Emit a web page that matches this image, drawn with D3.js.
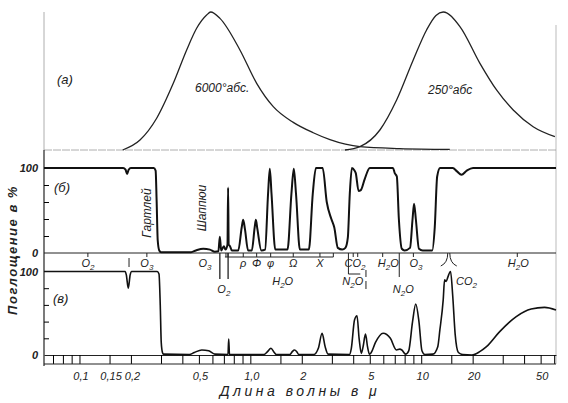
<!DOCTYPE html>
<html>
<head>
<meta charset="utf-8">
<script src="https://cdn.jsdelivr.net/npm/d3@7"></script>
<style>
  body { margin: 0; background: #fff; }
  svg { display: block; background: #fff; }
  text { font-family: "Liberation Sans", "DejaVu Sans", sans-serif; font-style: italic; fill: #222; }
</style>
</head>
<body>
<svg width="568" height="403"></svg>
<script>
// wavelength ticks on the log axis (microns)
var waveTicks = [0.07, 0.08, 0.09, 0.1, 0.15, 0.2, 0.3, 0.4, 0.5, 0.6, 0.7, 0.8, 0.9, 1, 1.5, 2, 3, 4, 5, 6, 7, 8, 9, 10, 15, 20, 30, 40, 50, 60];
var waveLabels = [0.1, 0.15, 0.2, 0.5, 1, 2, 5, 10, 20, 50];

// (a) black body curves, normalised
var planck6000 = [[0.179, 0], [0.226, 0.072], [0.283, 0.23], [0.354, 0.483], [0.424, 0.725], [0.485, 0.882],
  [0.555, 0.978], [0.586, 1.0], [0.664, 0.954], [0.869, 0.725], [1.089, 0.483], [1.362, 0.314], [1.783, 0.2],
  [2.334, 0.125], [2.924, 0.075], [3.6, 0.042], [4.38, 0.024], [7.5, 0.01], [14.7, 0.004]];
var planck250 = [[3.58, 0], [4.38, 0.024], [5.73, 0.145], [7.18, 0.362], [8.98, 0.652], [10.75, 0.87],
  [12.2, 0.975], [13.45, 1.0], [16.85, 0.894], [22.06, 0.628], [27.6, 0.435], [34.55, 0.29], [45.2, 0.169], [60.6, 0.097]];

// (б) absorption, %
var absTop = [[0.062, 100], [0.18, 100], [0.186, 98], [0.19, 93], [0.194, 98], [0.2, 100], [0.272, 100], [0.279, 97],
  [0.283, 60], [0.287, 15], [0.293, 3], [0.3, 1], [0.45, 1], [0.48, 3], [0.53, 5], [0.58, 4], [0.62, 1.5], [0.65, 2],
  [0.663, 19], [0.675, 3], [0.7, 8], [0.715, 4], [0.735, 10], [0.741, 77], [0.747, 10], [0.76, 8], [0.78, 3], [0.85, 3],
  [0.89, 30], [0.908, 39], [0.93, 28], [0.97, 3], [1.02, 3], [1.06, 30], [1.077, 39], [1.1, 28], [1.16, 3], [1.22, 4],
  [1.27, 70], [1.3, 99], [1.33, 70], [1.4, 4], [1.65, 4], [1.74, 70], [1.796, 99], [1.85, 70], [1.95, 4], [2.2, 4],
  [2.32, 70], [2.42, 100], [2.65, 100], [2.8, 60], [2.98, 40], [3.1, 30], [3.25, 6], [3.45, 4], [3.6, 6], [3.72, 18],
  [3.82, 70], [3.93, 100], [4.07, 97], [4.14, 94], [4.3, 73], [4.43, 74], [4.67, 87], [5.0, 100], [6.84, 100],
  [7.0, 94], [7.2, 90], [7.4, 40], [7.7, 5], [8.0, 3], [8.6, 6], [8.9, 40], [9.08, 58], [9.3, 40], [9.7, 5], [10.2, 3],
  [11.6, 3], [12.0, 30], [12.4, 90], [12.9, 100], [15.3, 100], [16.2, 96], [17.2, 92], [18.5, 97], [20.1, 100], [61.5, 100]];

// (в) absorption, %
var absLow = [[0.062, 100], [0.185, 100], [0.188, 96], [0.193, 80], [0.198, 96], [0.202, 100], [0.285, 100], [0.292, 97],
  [0.297, 60], [0.301, 15], [0.306, 3], [0.31, 1], [0.44, 0.5], [0.47, 3], [0.52, 6], [0.57, 5], [0.62, 1], [0.74, 0.5],
  [0.747, 19], [0.755, 0.5], [1.2, 0.5], [1.26, 4], [1.32, 8], [1.38, 3], [1.42, 0.5], [1.7, 0.5], [1.76, 4], [1.81, 6],
  [1.87, 4], [1.92, 0.5], [2.35, 0.5], [2.5, 8], [2.63, 26], [2.74, 10], [2.85, 1], [3.8, 0.5], [3.9, 8], [4.07, 42],
  [4.21, 47], [4.33, 20], [4.46, 2], [4.57, 10], [4.72, 25], [4.85, 10], [4.98, 1], [5.1, 3], [5.4, 15], [5.98, 26],
  [6.6, 20], [7.16, 6], [7.5, 7], [7.7, 6], [8.1, 1], [8.45, 5], [8.9, 40], [9.29, 61], [9.7, 40], [10.1, 5], [10.5, 0.5],
  [11.7, 1], [12.5, 10], [12.86, 30], [13.45, 66], [13.7, 90], [14.0, 88], [14.3, 93], [14.85, 100], [15.3, 70],
  [15.8, 25], [16.5, 3], [17.5, 0.5], [19.8, 0], [22, 4], [24.1, 10], [28.8, 28], [36, 46], [44, 55], [52.7, 57], [61.5, 54]];

// band names under panel (б): text, wavelength, row
var bandLabels = [["O_2", 0.112, 0], ["O_3", 0.248, 0], ["O_3", 0.543, 0], ["O_2", 0.70, 2], ["ρ", 0.909, 0],
  ["Φ", 1.089, 0], ["φ", 1.315, 0], ["Ω", 1.783, 0], ["X", 2.555, 0], ["H_2O", 1.546, 1], ["CO_2", 4.10, 0],
  ["N_2O", 3.98, 1], ["H_2O", 6.41, 0], ["N_2O", 7.85, 2], ["O_3", 9.31, 0], ["CO_2", 18.4, 1], ["H_2O", 36.97, 0]];
var bandMarks = [0.112, 0.248, 4.0, 4.25, 5.95, 9.0, 36.5];
var waterBands = [0.72, 0.74, 0.909, 1.089, 1.315, 1.783, 2.555, 3.06];

var svg = d3.select("svg");
var x = d3.scaleLog().domain([0.062, 61.5]).range([44, 556]);
var yA = d3.scaleLinear().domain([0, 1]).range([150, 12]);
var yB = d3.scaleLinear().domain([0, 100]).range([253, 168]);
var yC = d3.scaleLinear().domain([0, 100]).range([355, 271.5]);

function chem(sel, label) {
  var parts = label.split(/_(\d)/);
  parts.forEach(function(p, i) {
    if (!p) return;
    if (i % 2) sel.append("tspan").attr("dy", 3).style("font-size", "8px").text(p);
    else sel.append("tspan").attr("dy", i ? -3 : 0).text(p);
  });
}

// frame lines
svg.append("line").attr("x1", 44).attr("x2", 44).attr("y1", 12).attr("y2", 150).attr("stroke", "#999").attr("stroke-width", 0.8);
svg.append("line").attr("x1", 556).attr("x2", 556).attr("y1", 25).attr("y2", 364).attr("stroke", "#aaa").attr("stroke-width", 0.8);
svg.append("line").attr("x1", 44).attr("x2", 556).attr("y1", 150).attr("y2", 150).attr("stroke", "#999")
  .attr("stroke-width", 0.8).attr("stroke-dasharray", "8,1");
svg.append("line").attr("x1", 44).attr("x2", 44).attr("y1", 150).attr("y2", 366).attr("stroke", "#222").attr("stroke-width", 1.2);
svg.append("line").attr("x1", 44).attr("x2", 556).attr("y1", 253).attr("y2", 253).attr("stroke", "#222").attr("stroke-width", 1);

// y ticks
svg.append("g").attr("transform", "translate(44,0)")
  .call(d3.axisRight(yB).tickValues([20, 40, 60, 80]).tickSize(5).tickFormat(""))
  .call(g => g.select(".domain").remove());
svg.append("g").attr("transform", "translate(44,0)")
  .call(d3.axisRight(yC).tickValues([20, 40, 60, 80]).tickSize(5).tickFormat(""))
  .call(g => g.select(".domain").remove());
[yB, yC].forEach(function(s) {
  svg.append("g").attr("transform", "translate(42,0)")
    .call(d3.axisLeft(s).tickValues([0, 100]).tickSize(0).tickPadding(4))
    .call(g => g.select(".domain").remove())
    .selectAll("text").style("font-size", "11px").style("font-weight", "bold").attr("fill", "#222");
});

// x axis band
svg.append("g").attr("transform", "translate(0,355)")
  .call(d3.axisBottom(x).tickValues(waveTicks).tickSizeInner(9).tickSizeOuter(0).tickFormat(""))
  .call(g => g.select(".domain").attr("stroke", "#222"));
svg.append("line").attr("x1", 44).attr("x2", 556).attr("y1", 364).attr("y2", 364).attr("stroke", "#222").attr("stroke-width", 1.2);
svg.append("g").attr("transform", "translate(1,366)")
  .call(d3.axisBottom(x).tickValues(waveLabels).tickSize(0).tickPadding(6)
    .tickFormat(d => d === 1 ? "1,0" : String(d).replace(".", ",")))
  .call(g => g.select(".domain").remove())
  .selectAll("text").style("font-size", "11px").attr("fill", "#222");

// curves
var lineA = d3.line().x(d => x(d[0])).y(d => yA(d[1])).curve(d3.curveMonotoneX);
var lineB = d3.line().x(d => x(d[0])).y(d => yB(d[1])).curve(d3.curveMonotoneX);
var lineC = d3.line().x(d => x(d[0])).y(d => yC(d[1])).curve(d3.curveMonotoneX);
[planck6000, planck250].forEach(function(d) {
  svg.append("path").datum(d).attr("d", lineA).attr("fill", "none").attr("stroke", "#222").attr("stroke-width", 1.3);
});
svg.append("path").datum(absTop).attr("d", lineB).attr("fill", "none").attr("stroke", "#111").attr("stroke-width", 2);
svg.append("path").datum(absLow).attr("d", lineC).attr("fill", "none").attr("stroke", "#111").attr("stroke-width", 1.6);

// band markers and brackets between panels
var marks = svg.append("g").attr("stroke", "#222").attr("fill", "none").attr("stroke-width", 1);
bandMarks.forEach(function(w) {
  marks.append("line").attr("x1", x(w)).attr("x2", x(w)).attr("y1", 253).attr("y2", 257);
});
marks.append("line").attr("x1", x(0.195)).attr("x2", x(0.195)).attr("y1", 258).attr("y2", 267);
[0.663, 0.741].forEach(function(w) {
  marks.append("line").attr("x1", x(w)).attr("x2", x(w)).attr("y1", 253).attr("y2", 279).attr("stroke-width", 1.3);
});
marks.append("line").attr("x1", x(0.71)).attr("x2", x(3.06)).attr("y1", 257).attr("y2", 257);
waterBands.forEach(function(w) {
  marks.append("line").attr("x1", x(w)).attr("x2", x(w)).attr("y1", 253).attr("y2", 257);
});
marks.append("path").attr("d", "M" + x(3.75) + ",253V274H" + x(4.4));
marks.append("line").attr("x1", x(4.75)).attr("x2", x(4.75)).attr("y1", 270).attr("y2", 277);
marks.append("line").attr("x1", x(4.75)).attr("x2", x(4.75)).attr("y1", 281).attr("y2", 289);
marks.append("line").attr("x1", x(7.44)).attr("x2", x(7.44)).attr("y1", 253).attr("y2", 277);
var bx = x(14.5);
marks.append("path").attr("d", "M" + (bx - 8) + ",266Q" + (bx - 1) + ",263 " + (bx - 1) + ",253");
marks.append("path").attr("d", "M" + (bx + 8) + ",266Q" + (bx + 1) + ",263 " + (bx + 1) + ",253");

var rowY = [267, 285, 293];
bandLabels.forEach(function(d) {
  var t = svg.append("text").attr("x", x(d[1])).attr("y", rowY[d[2]])
    .attr("text-anchor", "middle").style("font-size", "11px");
  chem(t, d[0]);
});

// panel captions
svg.append("text").attr("x", 57).attr("y", 84).style("font-size", "13px").text("(а)");
svg.append("text").attr("x", 54).attr("y", 192).style("font-size", "13px").text("(б)");
svg.append("text").attr("x", 53).attr("y", 303).style("font-size", "13px").text("(в)");
svg.append("text").attr("x", 195).attr("y", 92).style("font-size", "12px").text("6000°абс.");
svg.append("text").attr("x", 428).attr("y", 94).style("font-size", "12px").text("250°абс");
svg.append("text").attr("transform", "translate(151,213) rotate(-90)").attr("text-anchor", "middle")
  .style("font-size", "12px").text("Гартлей");
svg.append("text").attr("transform", "translate(206,208) rotate(-90)").attr("text-anchor", "middle")
  .style("font-size", "12px").text("Шаппюи");

// axis titles
svg.append("text").attr("transform", "translate(17,250) rotate(-90)").attr("text-anchor", "middle")
  .style("font-size", "13px").style("font-weight", "bold").style("letter-spacing", "1.5px").text("Поглощение в %");
svg.append("text").attr("x", 300).attr("y", 396).attr("text-anchor", "middle")
  .style("font-size", "14px").style("letter-spacing", "3.5px").text("Длина волны в μ");
</script>
</body>
</html>
